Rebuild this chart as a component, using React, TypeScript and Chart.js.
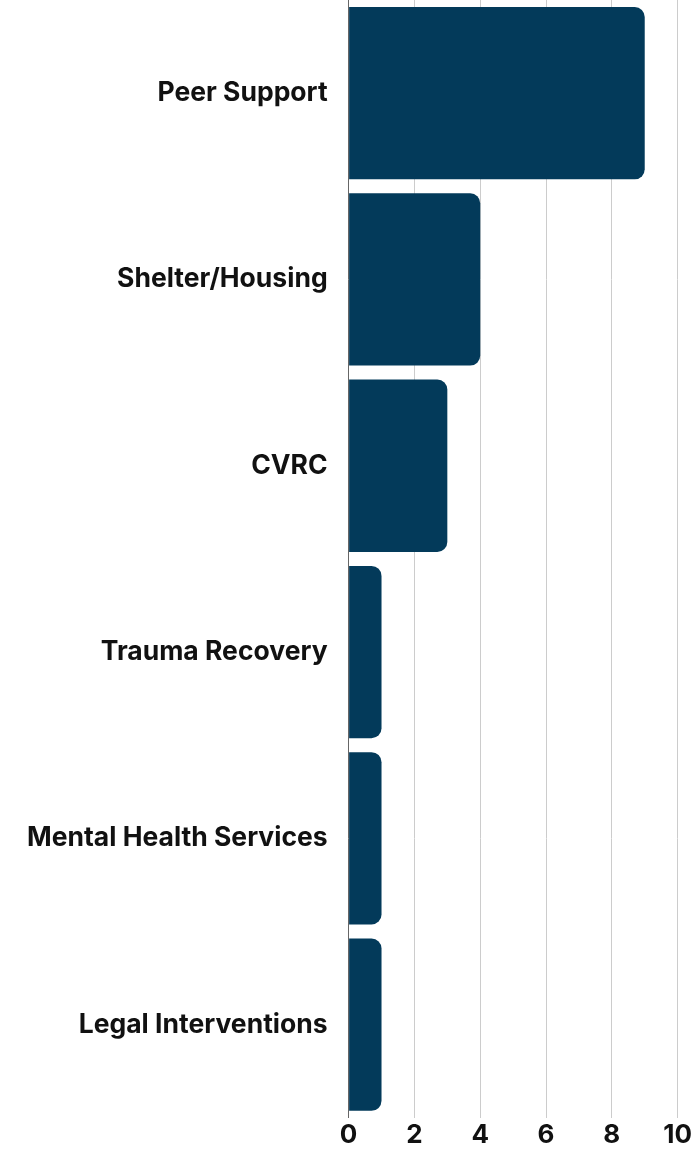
import React, { useEffect, useRef } from "react";
import { Chart, registerables } from "chart.js";

Chart.register(...registerables);

const categories = [
  "Peer Support",
  "Shelter/Housing",
  "CVRC",
  "Trauma Recovery",
  "Mental Health Services",
  "Legal Interventions",
];
const values = [9, 4, 3, 1, 1, 1];
const xTicks = [0, 2, 4, 6, 8, 10];

const BAR_COLOR = "#033A5A";
const FONT = "Inter, 'DejaVu Sans', sans-serif";

export default function App() {
  const ref = useRef<HTMLCanvasElement | null>(null);

  useEffect(() => {
    if (!ref.current) return;
    const chart = new Chart(ref.current, {
      type: "bar",
      data: {
        labels: categories,
        datasets: [
          {
            data: values,
            backgroundColor: BAR_COLOR,
            borderRadius: 10,
            borderSkipped: "start",
            categoryPercentage: 1,
            barPercentage: 0.925,
          },
        ],
      },
      options: {
        indexAxis: "y",
        animation: false,
        responsive: false,
        maintainAspectRatio: false,
        layout: { padding: { top: -2, right: 0, left: 6, bottom: -4 } },
        plugins: { legend: { display: false }, tooltip: { enabled: false } },
        scales: {
          x: {
            min: 0,
            max: 10,
            afterBuildTicks: (axis: any) => {
              axis.ticks = xTicks.map((v) => ({ value: v }));
            },
            grid: { color: "#CCCCCC", lineWidth: 1, drawTicks: false },
            border: { display: false },
            ticks: {
              color: "#111111",
              padding: 2,
              font: { family: FONT, size: 26, weight: "700" },
            },
          },
          y: {
            afterFit: (s: any) => {
              s.paddingTop = 0;
              s.paddingBottom = 0;
            },
            grid: { display: false, drawTicks: false },
            border: { display: true, color: "#666666", width: 1 },
            ticks: {
              color: "#111111",
              padding: 21,
              font: { family: FONT, size: 26.5, weight: "700" },
            },
          },
        },
      },
    });
    return () => chart.destroy();
  }, []);

  return (
    <div style={{ position: "absolute", left: 0, top: 0, width: 694, height: 1149, background: "#fff" }}>
      <canvas ref={ref} width={694} height={1149} style={{ display: "block" }} />
    </div>
  );
}
